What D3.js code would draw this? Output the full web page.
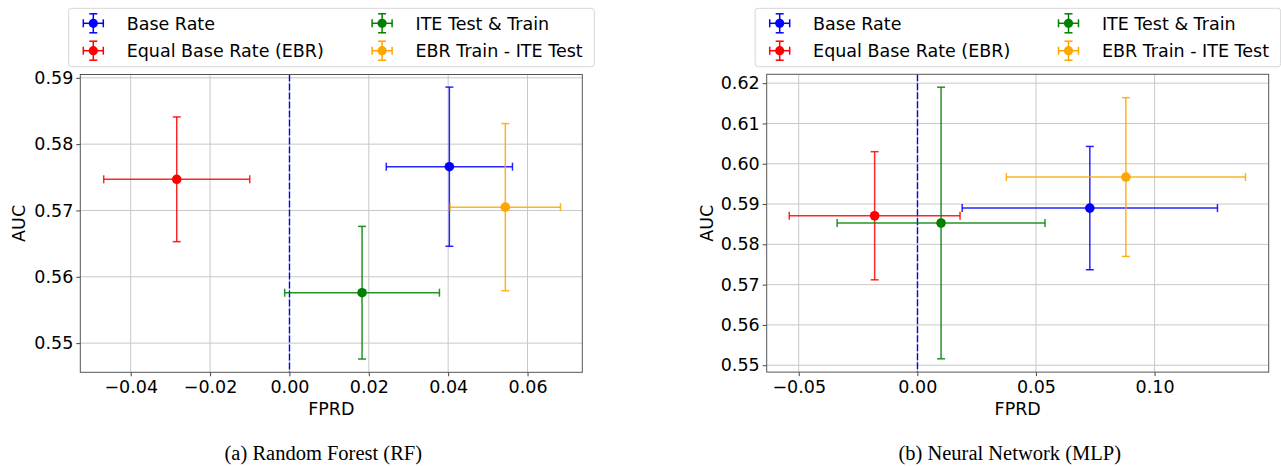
<!DOCTYPE html>
<html>
<head>
<meta charset="utf-8">
<script src="https://cdn.jsdelivr.net/npm/d3@7"></script>
<style>
    body { margin: 0; background: #fff; }
    svg text { font-family: "DejaVu Sans", sans-serif; fill: #000; }
    .caption { font-family: "Liberation Serif", "Times New Roman", serif; }
</style>
</head>
<body>
<svg id="chart" width="1281" height="466"></svg>
<script>
    /**
     * @Data
     */
    const seriesNames = ['Base Rate', 'Equal Base Rate (EBR)', 'ITE Test & Train', 'EBR Train - ITE Test']
    const seriesColors = ['#0000ff', '#ff0000', '#008000', '#ffa500']

    // Random Forest
    const rfFPRD = [0.0403, -0.0284, 0.0183, 0.0544]
    const rfFPRDErr = [0.0159, 0.0184, 0.0195, 0.0139]
    const rfAUC = [0.5766, 0.5747, 0.5576, 0.5705]
    const rfAUCErr = [0.0120, 0.0094, 0.0100, 0.0126]
    const rfXTicks = [-0.04, -0.02, 0.00, 0.02, 0.04, 0.06]
    const rfYTicks = [0.55, 0.56, 0.57, 0.58, 0.59]
    const rfXDomain = [-0.0527, 0.0738]
    const rfYDomain = [0.5456, 0.5905]

    // Neural Network
    const mlpFPRD = [0.0727, -0.0180, 0.0100, 0.0879]
    const mlpFPRDErr = [0.0538, 0.0360, 0.0438, 0.0504]
    const mlpAUC = [0.5890, 0.5871, 0.5853, 0.5967]
    const mlpAUCErr = [0.0153, 0.0159, 0.0337, 0.0197]
    const mlpXTicks = [-0.05, 0.00, 0.05, 0.10]
    const mlpYTicks = [0.55, 0.56, 0.57, 0.58, 0.59, 0.60, 0.61, 0.62]
    const mlpXDomain = [-0.0635, 0.1481]
    const mlpYDomain = [0.5483, 0.6222]

    const captions = ['(a) Random Forest (RF)', '(b) Neural Network (MLP)']

    const FONT = 17.5
    const CAP = 4
    const svg = d3.select('#chart')

    const panels = [
        { left: 80.3, top: 74.5, x: rfFPRD, xe: rfFPRDErr, y: rfAUC, ye: rfAUCErr,
          xt: rfXTicks, yt: rfYTicks, xd: rfXDomain, yd: rfYDomain, caption: captions[0] },
        { left: 766.7, top: 74.3, x: mlpFPRD, xe: mlpFPRDErr, y: mlpAUC, ye: mlpAUCErr,
          xt: mlpXTicks, yt: mlpYTicks, xd: mlpXDomain, yd: mlpYDomain, caption: captions[1] }
    ]
    const W = 502
    const H = 297.8

    /**
     * @Panel
     */
    function drawPanel(p){
        const scaleX = d3.scaleLinear().domain(p.xd).range([0, W])
        const scaleY = d3.scaleLinear().domain(p.yd).range([H, 0])

        const g = svg.append('g').attr('transform', `translate(${p.left},${p.top})`)

        // grid
        g.append('g')
            .selectAll('line')
            .data(p.xt)
            .enter()
            .append('line')
            .attr('x1', d => scaleX(d)).attr('x2', d => scaleX(d))
            .attr('y1', 0).attr('y2', H)
            .attr('stroke', '#c8c8c8').attr('stroke-width', 1)
        g.append('g')
            .selectAll('line')
            .data(p.yt)
            .enter()
            .append('line')
            .attr('x1', 0).attr('x2', W)
            .attr('y1', d => scaleY(d)).attr('y2', d => scaleY(d))
            .attr('stroke', '#c8c8c8').attr('stroke-width', 1)

        // zero line
        const zx = Math.round(p.left + scaleX(0)) + 0.5 - p.left
        g.append('line')
            .attr('x1', zx).attr('x2', zx)
            .attr('y1', 0).attr('y2', H)
            .attr('stroke', '#0000ff')
            .attr('stroke-width', 1.4)
            .attr('stroke-dasharray', '7,2')

        // axes
        const axisX = g.append('g')
            .attr('transform', `translate(0,${H})`)
            .call(d3.axisBottom(scaleX).tickValues(p.xt).tickFormat(d3.format('.2f')).tickSize(4).tickPadding(4).tickSizeOuter(0))
        const axisY = g.append('g')
            .call(d3.axisLeft(scaleY).tickValues(p.yt).tickFormat(d3.format('.2f')).tickSize(4).tickPadding(3).tickSizeOuter(0))
        ;[axisX, axisY].forEach(a => {
            a.select('.domain').remove()
            a.selectAll('line').attr('stroke', '#444')
            a.selectAll('text')
                .style('font-family', '"DejaVu Sans", sans-serif')
                .style('font-size', FONT + 'px')
                .attr('fill', '#000')
        })

        g.append('rect')
            .attr('x', 0).attr('y', 0)
            .attr('width', W).attr('height', H)
            .attr('fill', 'none')
            .attr('stroke', '#555')
            .attr('stroke-width', 1)

        // labels
        g.append('text')
            .attr('x', W / 2).attr('y', H + 43)
            .attr('text-anchor', 'middle')
            .style('font-size', FONT + 'px')
            .text('FPRD')
        const yLabelX = p.left < 300 ? -55 : -54
        g.append('text')
            .attr('transform', `translate(${yLabelX},${H / 2}) rotate(-90)`)
            .attr('text-anchor', 'middle')
            .style('font-size', FONT + 'px')
            .text('AUC')

        // error bars
        const bars = g.append('g')
            .selectAll('g')
            .data(seriesNames.map((n, i) => i))
            .enter()
            .append('g')
            .attr('stroke', i => seriesColors[i])
            .attr('fill', i => seriesColors[i])

        bars.append('line')
            .attr('x1', i => scaleX(p.x[i] - p.xe[i])).attr('x2', i => scaleX(p.x[i] + p.xe[i]))
            .attr('y1', i => scaleY(p.y[i])).attr('y2', i => scaleY(p.y[i]))
            .attr('stroke-width', 1.5).attr('stroke-opacity', 0.85)
        bars.append('line')
            .attr('x1', i => scaleX(p.x[i])).attr('x2', i => scaleX(p.x[i]))
            .attr('y1', i => scaleY(p.y[i] - p.ye[i])).attr('y2', i => scaleY(p.y[i] + p.ye[i]))
            .attr('stroke-width', 1.5).attr('stroke-opacity', 0.85)
        // caps
        ;[-1, 1].forEach(s => {
            bars.append('line')
                .attr('x1', i => scaleX(p.x[i] + s * p.xe[i])).attr('x2', i => scaleX(p.x[i] + s * p.xe[i]))
                .attr('y1', i => scaleY(p.y[i]) - CAP).attr('y2', i => scaleY(p.y[i]) + CAP)
                .attr('stroke-width', 1.5).attr('stroke-opacity', 0.85)
            bars.append('line')
                .attr('x1', i => scaleX(p.x[i]) - CAP).attr('x2', i => scaleX(p.x[i]) + CAP)
                .attr('y1', i => scaleY(p.y[i] + s * p.ye[i])).attr('y2', i => scaleY(p.y[i] + s * p.ye[i]))
                .attr('stroke-width', 1.5).attr('stroke-opacity', 0.85)
        })
        bars.append('circle')
            .attr('cx', i => scaleX(p.x[i]))
            .attr('cy', i => scaleY(p.y[i]))
            .attr('r', 4.8)
            .attr('stroke', 'none')

        // legend
        const legendLeft = p.left - 11.6
        const legend = svg.append('g').attr('transform', `translate(${legendLeft},8.3)`)
        legend.append('rect')
            .attr('width', 525.6).attr('height', 58.4)
            .attr('rx', 3)
            .attr('fill', '#fff').attr('fill-opacity', 0.8)
            .attr('stroke', '#d6d6d6').attr('stroke-width', 1)
        const item = legend.selectAll('.item')
            .data(seriesNames.map((n, i) => i))
            .enter()
            .append('g')
            .attr('transform', i => `translate(${i < 2 ? 24.6 : 313.4},${i % 2 === 0 ? 15 : 42.4})`)
        item.append('line').attr('x1', -10).attr('x2', 10).attr('y1', 0).attr('y2', 0)
            .attr('stroke', i => seriesColors[i]).attr('stroke-width', 1.5)
        item.append('line').attr('x1', 0).attr('x2', 0).attr('y1', -9.5).attr('y2', 9.5)
            .attr('stroke', i => seriesColors[i]).attr('stroke-width', 1.5)
        ;[-1, 1].forEach(s => {
            item.append('line').attr('x1', s * 10).attr('x2', s * 10).attr('y1', -CAP).attr('y2', CAP)
                .attr('stroke', i => seriesColors[i]).attr('stroke-width', 1.5)
            item.append('line').attr('x1', -CAP).attr('x2', CAP).attr('y1', s * 9.5).attr('y2', s * 9.5)
                .attr('stroke', i => seriesColors[i]).attr('stroke-width', 1.5)
        })
        item.append('circle').attr('r', 4.6).attr('fill', i => seriesColors[i])
        item.append('text')
            .attr('x', 33.4).attr('y', 0).attr('dy', '0.36em')
            .style('font-size', FONT + 'px')
            .attr('fill', '#111')
            .text(i => seriesNames[i])

        // caption
        svg.append('text')
            .attr('class', 'caption')
            .attr('x', p.left + W / 2 - 8)
            .attr('y', 460)
            .attr('text-anchor', 'middle')
            .style('font-family', '"Liberation Serif", serif')
            .style('font-size', '20.5px')
            .text(p.caption)
    }

    panels.forEach(drawPanel)
</script>
</body>
</html>
